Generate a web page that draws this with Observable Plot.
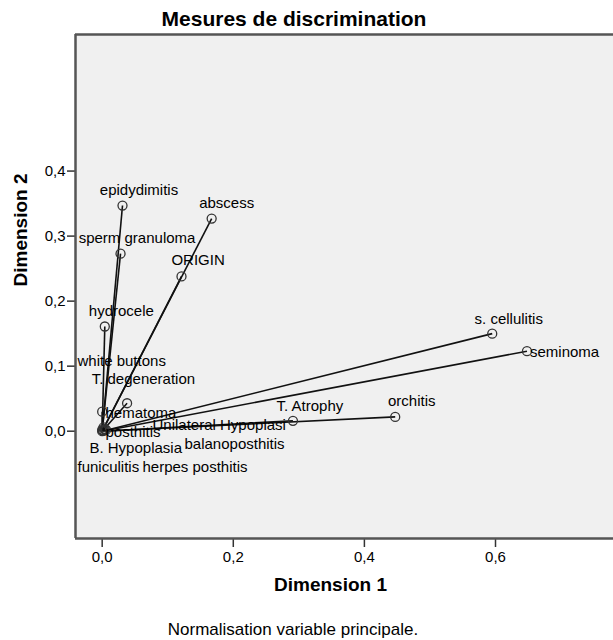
<!DOCTYPE html>
<html>
<head>
<meta charset="utf-8">
<script src="https://cdn.jsdelivr.net/npm/d3@7"></script>
<script src="https://cdn.jsdelivr.net/npm/@observablehq/plot@0.6"></script>
<style>
  html, body { margin: 0; padding: 0; background: #ffffff; }
  body { font-family: "Liberation Sans", Arial, sans-serif; color: #000; }
  #wrap { width: 613px; height: 640px; overflow: hidden; }
  #title { width: 588px; height: 32px; line-height: 38px; text-align: center; white-space: nowrap;
           font-weight: bold; font-size: 21px; overflow: visible; }
  #caption { width: 586px; height: 32px; line-height: 44px; text-align: center; white-space: nowrap;
             font-size: 17px; }
  svg { display: block; }
</style>
</head>
<body>
<div id="wrap">
  <div id="title">Mesures de discrimination</div>
  <div id="chart"></div>
  <div id="caption">Normalisation variable principale.</div>
</div>
<script>
// ---- data ----
const names = ["epidydimitis", "sperm granuloma", "abscess", "ORIGIN", "hydrocele",
  "white buttons", "T. degeneration", "hematoma", "posthitis", "Unilateral Hypoplasi",
  "balanoposthitis", "B. Hypoplasia", "funiculitis", "herpes posthitis",
  "T. Atrophy", "orchitis", "s. cellulitis", "seminoma"];
const dim1 = [0.031, 0.028, 0.167, 0.121, 0.004,
  0.002, 0.038, 0.000, 0.000, 0.004,
  0.006, 0.001, 0.000, 0.003,
  0.291, 0.447, 0.595, 0.648];
const dim2 = [0.347, 0.273, 0.327, 0.238, 0.161,
  0.006, 0.043, 0.030, 0.000, 0.003,
  0.002, 0.001, 0.002, 0.001,
  0.016, 0.022, 0.150, 0.123];
const xTicks = [0, 0.2, 0.4, 0.6];
const yTicks = [0, 0.1, 0.2, 0.3, 0.4];
const xDomain = [-0.0407, 0.780];
const yDomain = [-0.165, 0.610];

// label placement (anchor, dx, dy) — layout only; default: centred, up and to the right
const defaultPlacement = ["middle", 16.5, -15.5];
const labelPlacement = {
  "abscess": ["middle", 15, -15.3],
  "ORIGIN": ["middle", 16.6, -16],
  "T. Atrophy": ["middle", 17, -15],
  "orchitis": ["middle", 16.5, -16],
  "s. cellulitis": ["middle", 16.5, -14],
  "seminoma": ["start", 3, 1],
  "hematoma": ["start", 3.3, 2],
  "T. degeneration": ["middle", 16.3, -23.7],
  "white buttons": ["start", -26, -66],
  "posthitis": ["start", 3.3, 0.5],
  "Unilateral Hypoplasi": ["start", 47.7, -3.7],
  "balanoposthitis": ["start", 78.4, 14.6],
  "B. Hypoplasia": ["start", -13.4, 18],
  "funiculitis": ["start", -24.7, 37.6],
  "herpes posthitis": ["start", 38.3, 37]
};

const data = names.map((n, i) => ({name: n, x: dim1[i], y: dim2[i]}));
const fmt = d => d3.format(".1f")(d).replace(".", ",");

const labelMarks = data.map(d => {
  const [anchor, dx, dy] = labelPlacement[d.name] || defaultPlacement;
  return Plot.text([d], {x: "x", y: "y", text: "name", textAnchor: anchor, dx, dy,
    fill: "#000", fontSize: 15});
});

const chart = Plot.plot({
  width: 613,
  height: 576,
  marginLeft: 75,
  marginRight: 0,
  marginTop: 2,
  marginBottom: 70,
  style: {fontFamily: "'Liberation Sans', Arial, sans-serif", fontSize: "15px", background: "#ffffff", color: "#000"},
  x: {domain: xDomain},
  y: {domain: yDomain},
  marks: [
    Plot.frame({fill: "#f0f0f0", stroke: null}),
    Plot.axisX({ticks: xTicks, tickFormat: fmt, tickSize: 9, tickPadding: 3.5, label: null,
      stroke: "#333", strokeWidth: 1.5, fontSize: 15}),
    Plot.axisY({ticks: yTicks, tickFormat: fmt, tickSize: 8, tickPadding: 2, label: null,
      stroke: "#333", strokeWidth: 1.5, fontSize: 15}),
    Plot.link(data, {x1: d => 0, y1: d => 0, x2: "x", y2: "y", stroke: "#111", strokeWidth: 1.6}),
    Plot.dot(data, {x: "x", y: "y", r: 4.5, stroke: "#333", strokeWidth: 1.3, fill: "none"}),
    ...labelMarks,
    Plot.ruleX([xDomain[0]], {stroke: "#555", strokeWidth: 2.5}),
    Plot.ruleY(yDomain, {stroke: "#555", strokeWidth: 2.5}),
    Plot.text(["Dimension 1"], {frameAnchor: "bottom", dx: -14, dy: 52.7, text: d => d, fontWeight: "bold", fontSize: 19}),
    Plot.text(["Dimension 2"], {frameAnchor: "left", dx: -55, rotate: -90, text: d => d, fontWeight: "bold", fontSize: 19})
  ]
});
document.getElementById("chart").appendChild(chart);
</script>
</body>
</html>
